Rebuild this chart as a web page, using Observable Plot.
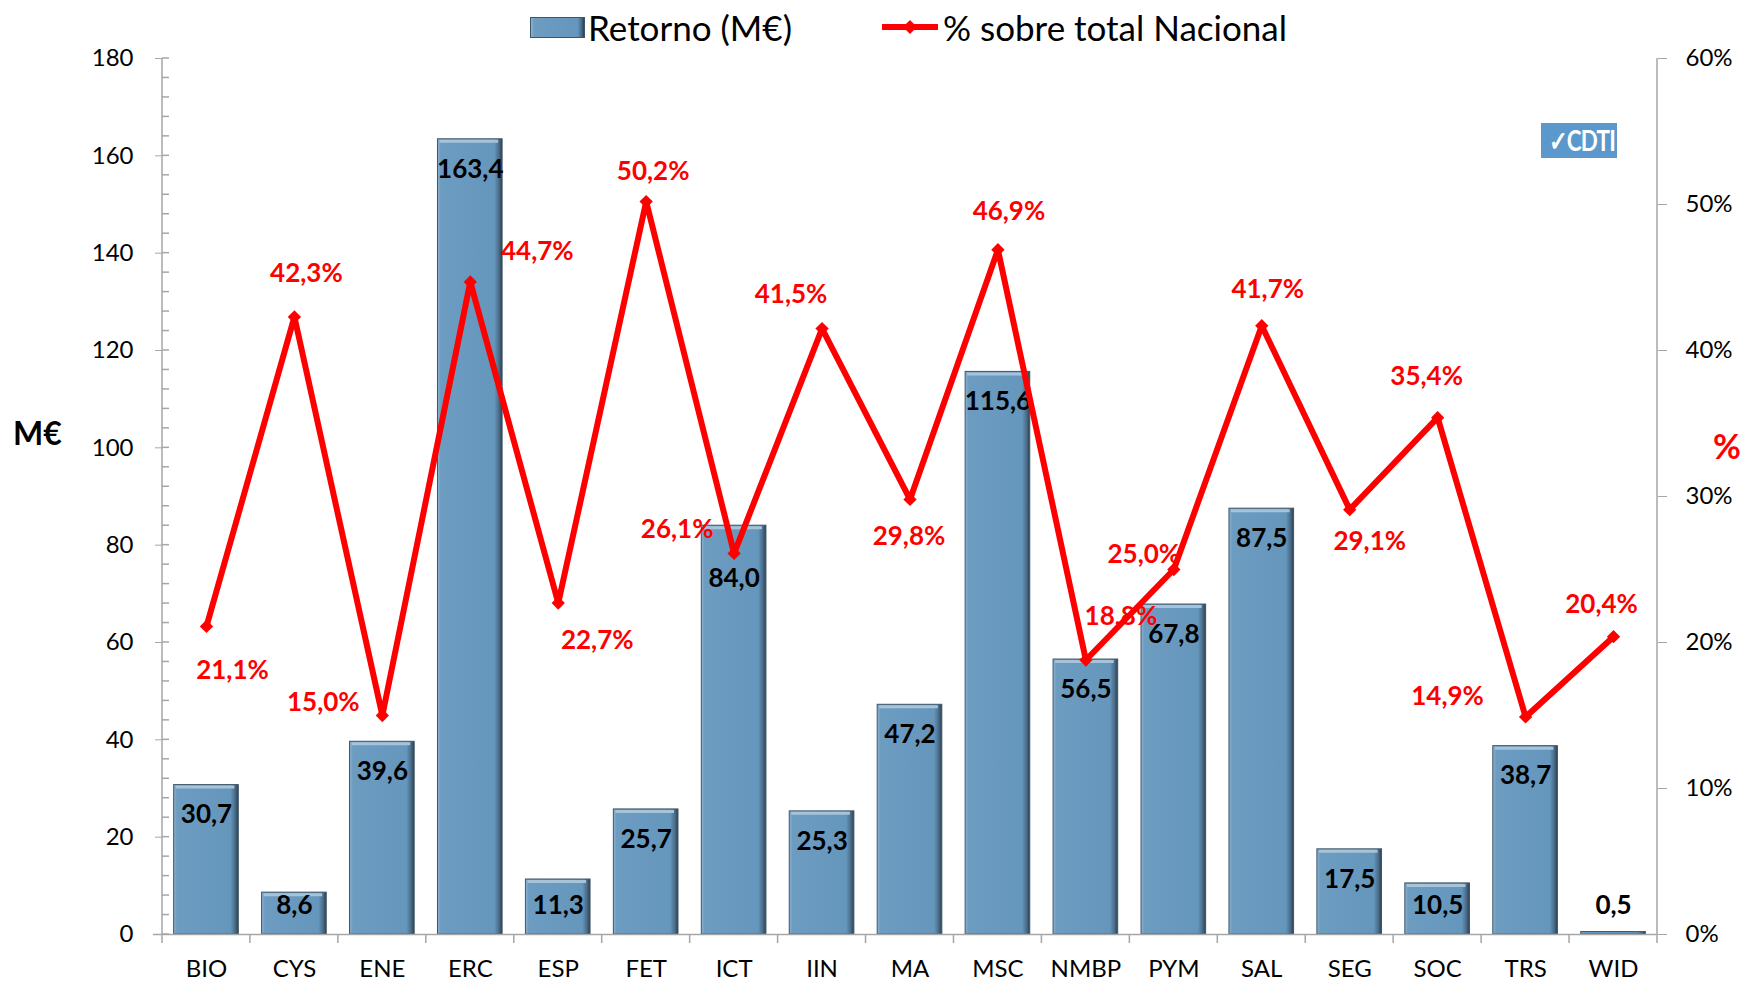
<!DOCTYPE html>
<html>
<head>
<meta charset="utf-8">
<script src="https://cdn.jsdelivr.net/npm/d3@7"></script>
<script src="https://cdn.jsdelivr.net/npm/@observablehq/plot@0.6"></script>
<style>
  html, body { margin: 0; padding: 0; background: #fff; }
  #wrap { position: relative; width: 1740px; height: 983px; overflow: hidden; font-family: Lato, "Open Sans", sans-serif; color: #000; }
  #wrap svg { position: absolute; left: 0; top: 0; }
  .abs { position: absolute; white-space: nowrap; }
  .leg { font-size: 35px; line-height: 40px; top: 7px; }
  .swatch { left: 530px; top: 17px; width: 53px; height: 19px; border: 1px solid #3e5566;
            background: linear-gradient(to right, #8cb2d2 0%, #6d9cc1 6%, #6596bc 88%, #4a6d8a 95%, #2e3f4e 100%); }
  .lline { left: 882px; top: 24px; width: 56px; height: 6px; background: #ff0000; }
  .ldiam { left: 905px; top: 22px; width: 10px; height: 10px; background: #ff0000; transform: rotate(45deg); }
  .axlab { font-weight: bold; font-size: 32px; line-height: 40px; }
  .logo { left: 1541px; top: 123px; width: 76px; height: 35px; background: #5b98cb; color: #fff;
          font-weight: bold; font-size: 28px; line-height: 35px; text-align: center; letter-spacing: -1px; }
</style>
</head>
<body>
<div id="wrap">
  <div class="abs swatch"></div>
  <div class="abs leg" style="left:588px">Retorno (M€)</div>
  <div class="abs lline"></div>
  <div class="abs ldiam"></div>
  <div class="abs leg" style="left:943px">% sobre total Nacional</div>
  <div class="abs axlab" style="left:13px; top:413px;">M€</div>
  <div class="abs axlab" style="left:1713px; top:426px; color:#ff0000; font-size:34px;">%</div>
  <div class="abs logo"><span style="display:inline-block;transform:scaleX(0.8)">✓CDTI</span></div>
</div>
<script>
// ---- data ----
const categories = ["BIO","CYS","ENE","ERC","ESP","FET","ICT","IIN","MA","MSC","NMBP","PYM","SAL","SEG","SOC","TRS","WID"];
const retorno    = [30.7, 8.6, 39.6, 163.4, 11.3, 25.7, 84.0, 25.3, 47.2, 115.6, 56.5, 67.8, 87.5, 17.5, 10.5, 38.7, 0.5];
const porcentaje = [21.1, 42.3, 15.0, 44.7, 22.7, 50.2, 26.1, 41.5, 29.8, 46.9, 18.8, 25.0, 41.7, 29.1, 35.4, 14.9, 20.4];
const leftTicks  = [0, 20, 40, 60, 80, 100, 120, 140, 160, 180];
const rightTicks = [0, 10, 20, 30, 40, 50, 60];

// ---- layout (label nudges in px, not data) ----
const pctLabelNudge = [[26,44],[12,-43],[-59,-13],[67,-30],[39,38],[7,-30],[-57,-24],[-31,-34],[-1,37],
                       [11,-38],[35,-43],[-30,-15],[6,-36],[20,32],[-11,-41],[-78,-20],[-12,-32]];
const barLabelNudge = [0,0,0,0,0,0,23,0,0,0,0,0,0,0,0,0,0];

const W = 1740, H = 983, ML = 162, MR = 83, MT = 58, MB = 49;
const K = 180 / 60; // % -> left-axis units
const fmt = v => v.toFixed(1).replace(".", ",");
const AX = "#a6a6a6";

const data = categories.map((c, i) => ({cat: c, v: retorno[i], p: porcentaje[i]}));

const pctLabels = data.map((d, i) => Plot.text([d], {
  x: "cat", y: e => e.p * K, text: e => fmt(e.p) + "%",
  dx: pctLabelNudge[i][0], dy: pctLabelNudge[i][1],
  fill: "#ff0000", fontWeight: "bold", fontSize: 26, lineAnchor: "middle"
}));
const barLabels = data.map((d, i) => Plot.text([d], {
  x: "cat", y: e => Math.max(e.v, 12.1), dy: 30 + barLabelNudge[i], text: e => fmt(e.v),
  fontWeight: "bold", fontSize: 26, fill: "#000", lineAnchor: "middle"
}));

const plot = Plot.plot({
  width: W, height: H,
  marginLeft: ML, marginRight: MR, marginTop: MT, marginBottom: MB,
  style: {fontFamily: "Lato, 'Open Sans', sans-serif", background: "transparent", color: "#000", overflow: "visible"},
  x: {domain: categories, paddingInner: 0.265, paddingOuter: 0.1325, round: false, label: null},
  y: {domain: [0, 180], label: null},
  marks: [
    Plot.barY(data, {x: "cat", y: "v", fill: "url(#barGrad)", stroke: "#3e5566", strokeWidth: 1}),
    Plot.tickY(data.filter(d => d.v > 2), {x: "cat", y: "v", stroke: "#a7c3da", strokeWidth: 3, dy: 2, insetLeft: 2, insetRight: 4}),
    Plot.ruleY([0], {stroke: AX, strokeWidth: 1.5, insetLeft: -9}),
    Plot.axisY({anchor: "left", ticks: leftTicks, tickSize: 7, tickPadding: 22, fontSize: 24, stroke: AX, fill: "#000", label: null}),
    Plot.axisY({anchor: "right", ticks: rightTicks.map(t => t * K), tickFormat: d => Math.round(d / K) + "%",
                tickSize: 9, tickPadding: 19, fontSize: 24, stroke: AX, fill: "#000", label: null}),
    Plot.axisX({anchor: "bottom", tickSize: 0, tickPadding: 25, fontSize: 24, fill: "#000", label: null}),
    ...barLabels,
    Plot.line(data, {x: "cat", y: d => d.p * K, stroke: "#ff0000", strokeWidth: 6}),
    Plot.dot(data, {x: "cat", y: d => d.p * K, symbol: "diamond2", r: 6, fill: "#ff0000"}),
    ...pctLabels
  ]
});

// gradient for bevelled bars
const svg = d3.select(plot);
const defs = svg.insert("defs", ":first-child");
const g = defs.append("linearGradient").attr("id", "barGrad").attr("x1", 0).attr("x2", 1).attr("y1", 0).attr("y2", 0);
[[0, "#8cb2d2"], [0.05, "#6d9cc1"], [0.88, "#6596bc"], [0.95, "#4a6d8a"], [1, "#2e3f4e"]]
  .forEach(([o, c]) => g.append("stop").attr("offset", o).attr("stop-color", c));

// axis lines, minor ticks and category boundary ticks, from Plot's scales
const sx = plot.scale("x"), sy = plot.scale("y");
const y0 = sy.apply(0), yTop = sy.apply(180);
const step = sx.bandwidth / (1 - 0.265);
const deco = svg.append("g").attr("stroke", AX).attr("stroke-width", 1.5).attr("fill", "none");
deco.append("line").attr("x1", ML).attr("x2", ML).attr("y1", yTop).attr("y2", y0);
deco.append("line").attr("x1", W - MR).attr("x2", W - MR).attr("y1", yTop).attr("y2", y0);
d3.range(0, 181, 4).forEach(t => {
  const y = sy.apply(t);
  deco.append("line").attr("x1", ML).attr("x2", ML + 7).attr("y1", y).attr("y2", y);
});
categories.forEach((c, i) => {
  const cx = sx.apply(c) + sx.bandwidth / 2;
  const xs = i === categories.length - 1 ? [cx - step / 2, cx + step / 2] : [cx - step / 2];
  xs.forEach(x => deco.append("line").attr("x1", x).attr("x2", x).attr("y1", y0).attr("y2", y0 + 9));
});
// keep line & labels on top of decoration
svg.selectAll("g[aria-label='line'], g[aria-label='dot'], g[aria-label='text']").raise();

document.getElementById("wrap").prepend(plot);
</script>
</body>
</html>
